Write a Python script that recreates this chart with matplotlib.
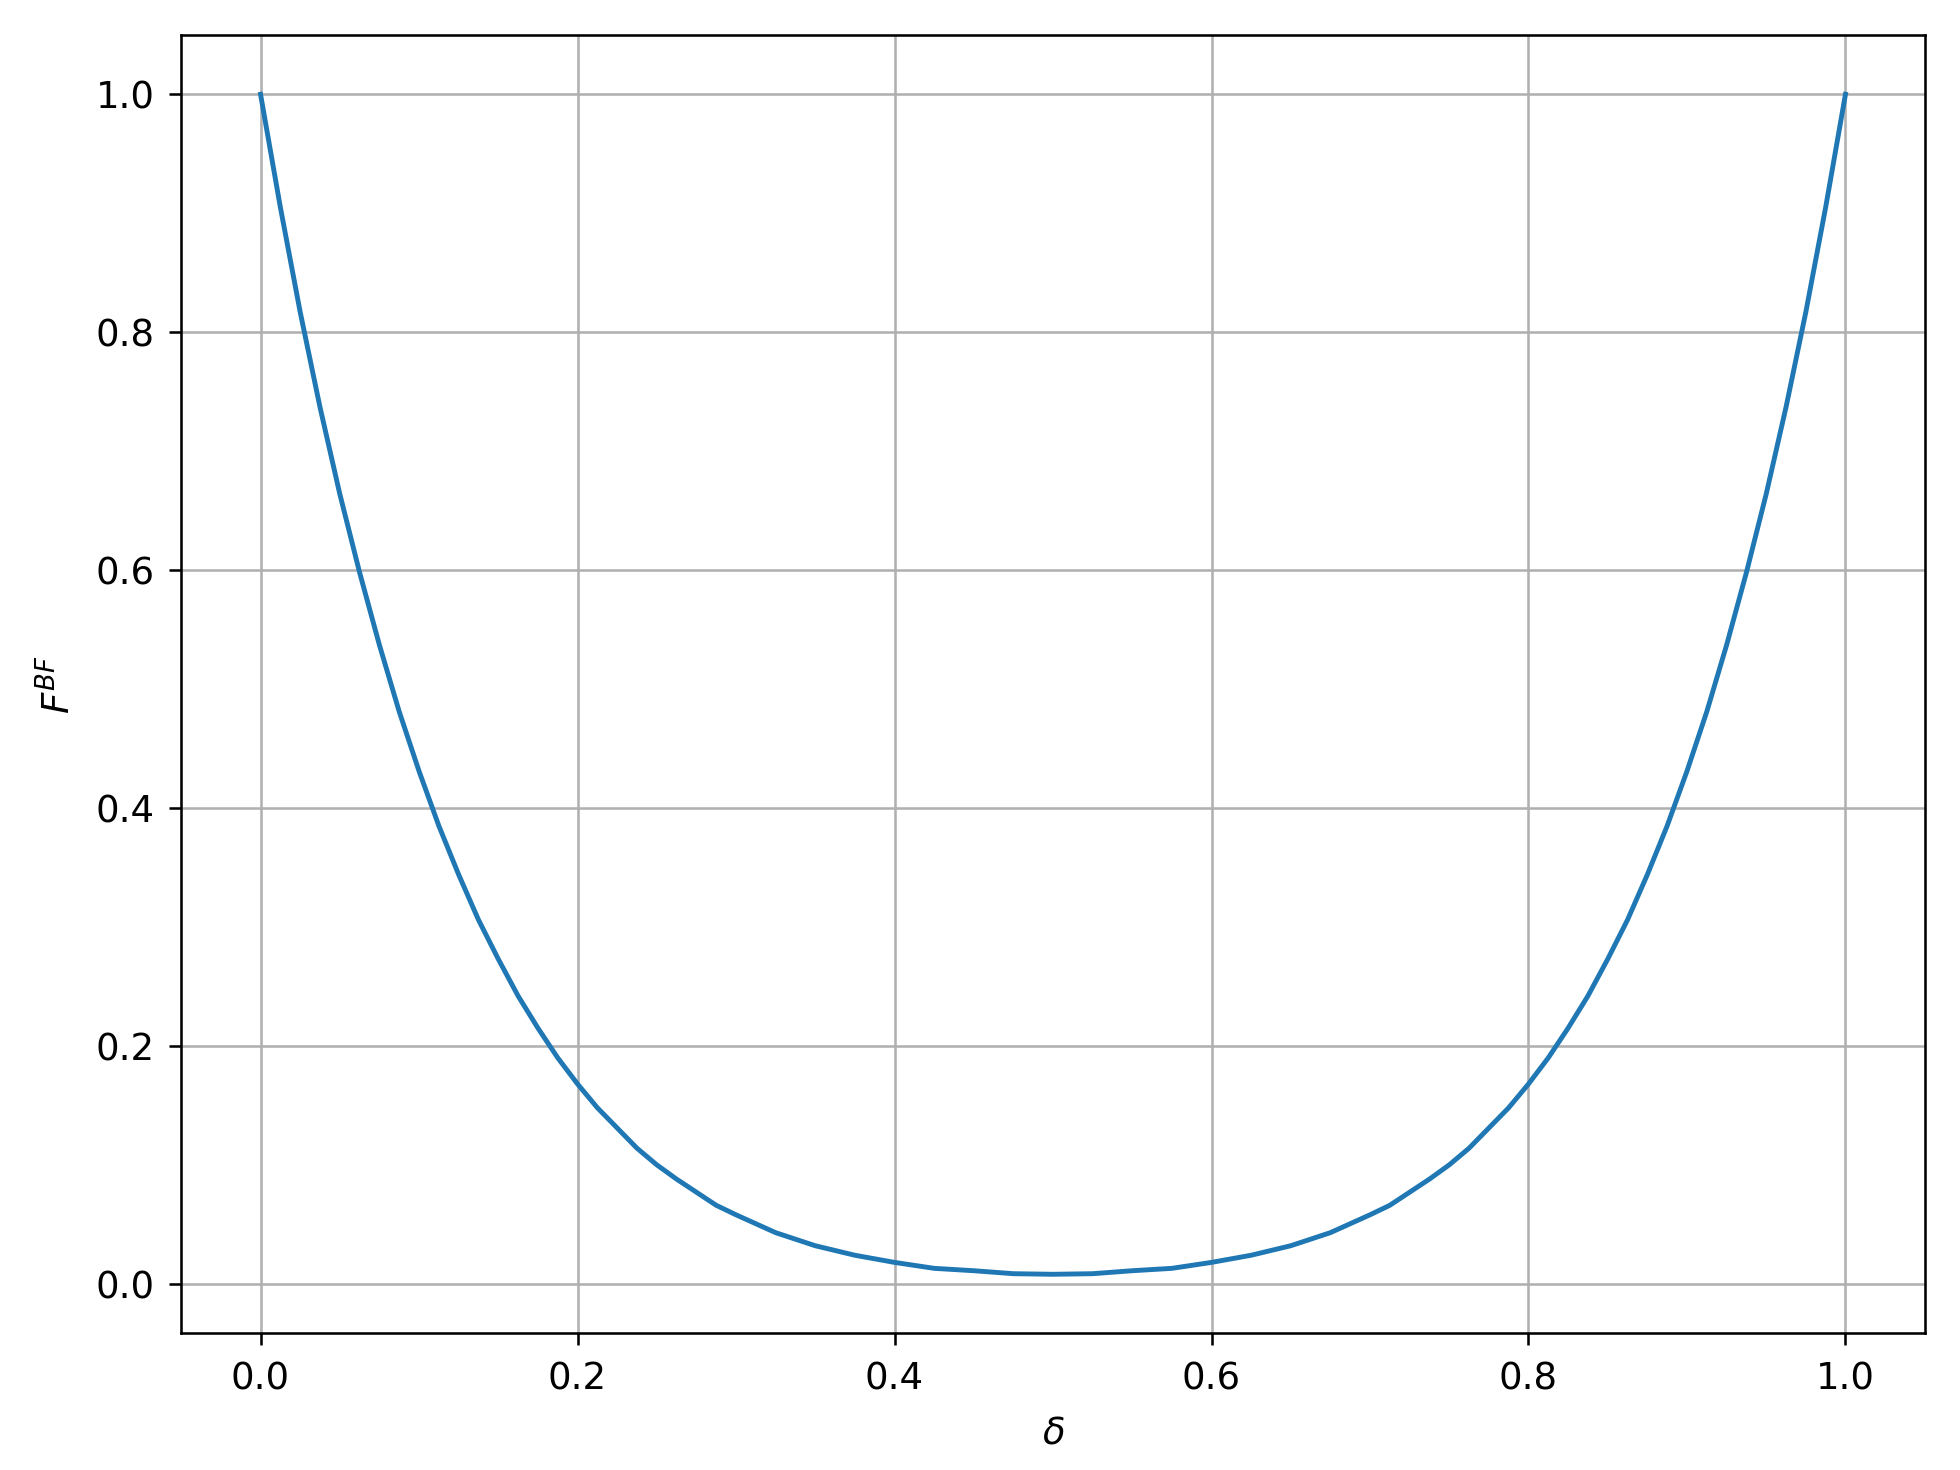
import numpy as np
import matplotlib
matplotlib.use("Agg")
import matplotlib.pyplot as plt

# valori (metà sinistra, la curva è simmetrica)
delta_left = [0.0, 0.0125, 0.025, 0.0375, 0.05, 0.0625, 0.075, 0.0875, 0.1,
              0.1125, 0.125, 0.1375, 0.15, 0.1625, 0.175, 0.1875, 0.2, 0.2125,
              0.225, 0.2375, 0.25, 0.2625, 0.275, 0.2875, 0.3, 0.325, 0.35,
              0.375, 0.4, 0.425, 0.45, 0.475, 0.5]
f_left = [1.0, 0.905, 0.817, 0.737, 0.664, 0.598, 0.537, 0.481, 0.431,
          0.385, 0.344, 0.306, 0.273, 0.242, 0.215, 0.190, 0.168, 0.148,
          0.131, 0.114, 0.100, 0.088, 0.077, 0.066, 0.058, 0.043, 0.032,
          0.024, 0.018, 0.013, 0.011, 0.0085, 0.008]

delta = delta_left + [round(1 - d, 4) for d in delta_left[-2::-1]]
f_bf = f_left + f_left[-2::-1]

fig, ax = plt.subplots(figsize=(6.4, 4.8), dpi=306.25)
fig.subplots_adjust(left=0.0925, right=0.982, top=0.976, bottom=0.093)
ax.plot(delta, f_bf, linewidth=1.15)
ax.set_xlabel(r'$\delta$', fontsize=8.7)
ax.set_ylabel(r'$F^{BF}$', fontsize=8.7)
ax.tick_params(labelsize=8.7, width=0.6, length=2.8)
for s in ax.spines.values():
    s.set_linewidth(0.6)
ax.grid(True, linewidth=0.6)
plt.savefig("out.png")
